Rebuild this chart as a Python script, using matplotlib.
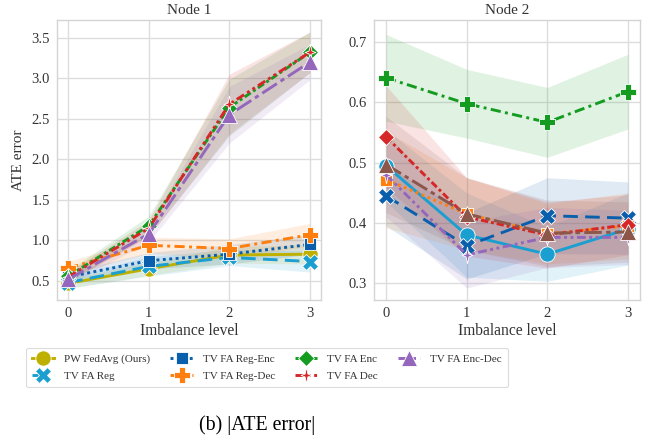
import numpy as np
import matplotlib
matplotlib.use("Agg")
import matplotlib.pyplot as plt
from matplotlib.path import Path

plt.rcParams['font.family'] = ['Liberation Serif', 'DejaVu Serif']
plt.rcParams['mathtext.fontset'] = 'stix'

levels = [0, 1, 2, 3]
methods = ["PW FedAvg (Ours)", "TV FA Reg", "TV FA Reg-Enc", "TV FA Reg-Dec",
           "TV FA Enc", "TV FA Dec", "TV FA Enc-Dec"]

# Node 1: mean ATE error and band half-width per method
node1_pw_fedavg = [0.47, 0.65, 0.82, 0.83]
node1_reg = [0.48, 0.68, 0.79, 0.74]
node1_reg_enc = [0.55, 0.75, 0.83, 0.95]
node1_reg_dec = [0.66, 0.94, 0.90, 1.07]
node1_enc = [0.56, 1.18, 2.64, 3.32]
node1_dec = [0.55, 1.15, 2.68, 3.32]
node1_enc_dec = [0.52, 1.08, 2.55, 3.20]

node1_pw_fedavg_err = [0.06, 0.08, 0.10, 0.12]
node1_reg_err = [0.07, 0.12, 0.10, 0.13]
node1_reg_enc_err = [0.06, 0.10, 0.12, 0.12]
node1_reg_dec_err = [0.08, 0.10, 0.12, 0.14]
node1_enc_err = [0.07, 0.12, 0.35, 0.25]
node1_dec_err = [0.06, 0.10, 0.37, 0.25]
node1_enc_dec_err = [0.06, 0.10, 0.35, 0.22]

# Node 2
node2_pw_fedavg = [0.495, 0.380, 0.348, 0.390]
node2_reg = [0.445, 0.362, 0.412, 0.408]
node2_reg_enc = [0.472, 0.415, 0.382, 0.395]
node2_reg_dec = [0.641, 0.598, 0.567, 0.618]
node2_enc = [0.543, 0.410, 0.380, 0.397]
node2_dec = [0.480, 0.347, 0.376, 0.376]
node2_enc_dec = [0.497, 0.415, 0.383, 0.385]

node2_pw_fedavg_err = [0.060, 0.070, 0.045, 0.060]
node2_reg_err = [0.050, 0.055, 0.063, 0.060]
node2_reg_enc_err = [0.080, 0.060, 0.050, 0.055]
node2_reg_dec_err = [0.072, 0.057, 0.058, 0.062]
node2_enc_err = [0.085, 0.065, 0.055, 0.050]
node2_dec_err = [0.070, 0.055, 0.050, 0.045]
node2_enc_dec_err = [0.080, 0.060, 0.055, 0.050]

node1_means = [node1_pw_fedavg, node1_reg, node1_reg_enc, node1_reg_dec,
               node1_enc, node1_dec, node1_enc_dec]
node1_errs = [node1_pw_fedavg_err, node1_reg_err, node1_reg_enc_err,
              node1_reg_dec_err, node1_enc_err, node1_dec_err, node1_enc_dec_err]
node2_means = [node2_pw_fedavg, node2_reg, node2_reg_enc, node2_reg_dec,
               node2_enc, node2_dec, node2_enc_dec]
node2_errs = [node2_pw_fedavg_err, node2_reg_err, node2_reg_enc_err,
              node2_reg_dec_err, node2_enc_err, node2_dec_err, node2_enc_dec_err]

palette = ['#bfb000', '#1a9fd0', '#0a5fad', '#ff7f0e', '#139c1f',
           '#d62728', '#9467bd', '#8c564b']

# four-pointed star with concave sides
star4 = Path([(0, 1), (0.17, 0.17), (0.65, 0), (0.17, -0.17), (0, -1),
              (-0.17, -0.17), (-0.65, 0), (-0.17, 0.17), (0, 1)],
             [Path.MOVETO] + [Path.LINETO] * 7 + [Path.CLOSEPOLY])
markers = ['o', 'X', 's', 'P', 'D', star4, '^']
msizes = [11, 11, 9, 11, 8, 12, 11]
linestyles = ['-', (0, (5, 2.5)), (0, (1, 1.2)), (0, (3.5, 1.5, 1, 1.5)),
              (0, (2.5, 1, 1, 1)), (0, (3, 1.2, 1, 1.2, 1, 1.2)),
              (0, (6, 1.5, 1.5, 1.5))]

fig = plt.figure(figsize=(6.63, 4.44), dpi=100)
ax1 = fig.add_axes([57 / 663, 1 - 300 / 444, 264 / 663, 280 / 444])
ax2 = fig.add_axes([374 / 663, 1 - 300 / 444, 266 / 663, 280 / 444])

def draw(ax, means, errs, color_offset):
    handles = []
    for i, (m, e) in enumerate(zip(means, errs)):
        c = palette[i + color_offset]
        m = np.asarray(m)
        e = np.asarray(e)
        ax.fill_between(levels, m - e, m + e, color=c, alpha=0.13, lw=0)
        h, = ax.plot(levels, m, color=c, lw=2.1, ls=linestyles[i],
                     marker=markers[i], ms=msizes[i], mec='white', mew=0.6,
                     label=methods[i])
        handles.append(h)
    return handles

handles = draw(ax1, node1_means, node1_errs, 0)
draw(ax2, node2_means, node2_errs, 1)

for ax, title in [(ax1, "Node 1"), (ax2, "Node 2")]:
    ax.set_facecolor('white')
    ax.grid(True, color='#dddddd', lw=1.0)
    ax.set_axisbelow(True)
    for s in ax.spines.values():
        s.set_color('#d4d4d4')
        s.set_linewidth(1.0)
    ax.tick_params(length=0, labelsize=10.5, colors='#333333', pad=5)
    ax.set_xticks(levels)
    ax.set_title(title, fontsize=11, color='#333333', pad=4)
    ax.set_xlabel("Imbalance level", fontsize=11.2, color='#333333', labelpad=2)

ax1.set_xlim(-0.14, 3.14)
ax1.set_ylim(0.265, 3.72)
ax1.set_yticks([0.5, 1.0, 1.5, 2.0, 2.5, 3.0, 3.5])
ax1.set_ylabel("ATE error", fontsize=11, color='#333333', labelpad=5)

ax2.set_xlim(-0.15, 3.15)
ax2.set_ylim(0.272, 0.737)
ax2.set_yticks([0.3, 0.4, 0.5, 0.6, 0.7])

leg = fig.legend(handles=handles, loc='upper left',
                 bbox_to_anchor=(26 / 663, 1 - 348 / 444), ncol=4,
                 fontsize=8, frameon=True, handlelength=2.0,
                 columnspacing=1.8, handletextpad=0.9, borderpad=0.55,
                 labelspacing=0.65, markerscale=1.0, borderaxespad=0)
leg.get_frame().set_edgecolor('#d4d4d4')
leg.get_frame().set_linewidth(0.8)
for t in leg.get_texts():
    t.set_color('#333333')

fig.text(257 / 663, 1 - 425 / 444, "(b) |ATE error|", ha='center', va='center',
         fontsize=14.3, color='black')

fig.savefig("out.png", dpi=100, facecolor='white')
